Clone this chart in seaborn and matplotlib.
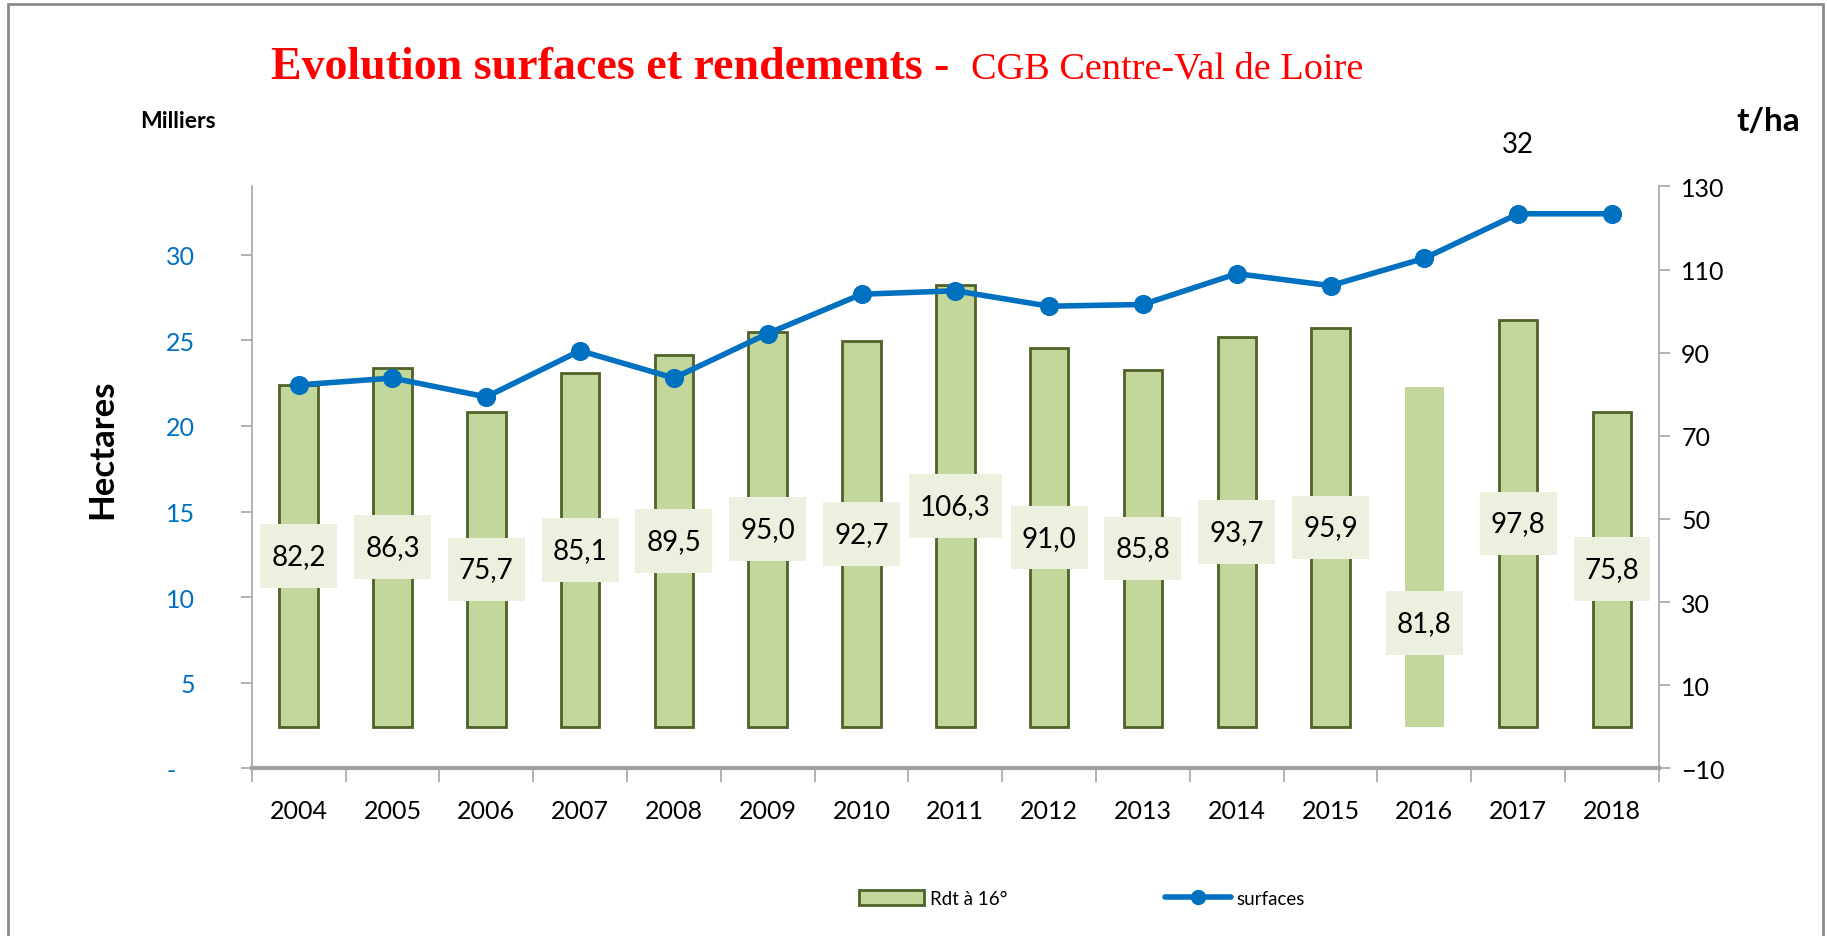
import numpy as np
import pandas as pd
import matplotlib
matplotlib.use('Agg')
import matplotlib.pyplot as plt
import seaborn as sns
from matplotlib.patches import Rectangle, Patch
from matplotlib.lines import Line2D

# Data
years = ['2004', '2005', '2006', '2007', '2008', '2009', '2010', '2011',
         '2012', '2013', '2014', '2015', '2016', '2017', '2018']
rendement = [82.2, 86.3, 75.7, 85.1, 89.5, 95.0, 92.7, 106.3,
             91.0, 85.8, 93.7, 95.9, 81.8, 97.8, 75.8]
surfaces = [22.4, 22.8, 21.7, 24.4, 22.8, 25.4, 27.7, 27.9,
            27.0, 27.1, 28.9, 28.2, 29.8, 32.4, 32.4]
hectare_ticks = [0, 5, 10, 15, 20, 25, 30]
hectare_labels = ['-   ', '5', '10', '15', '20', '25', '30']
tha_ticks = [-10, 10, 30, 50, 70, 90, 110, 130]

df = pd.DataFrame({'annee': years, 'rdt': rendement, 'surfaces': surfaces})

bar_fill = '#C3D69B'
bar_edge = '#4F6228'
line_col = '#0070C0'
axis_grey = '#A6A6A6'

sns.set_theme(style='white')
plt.rcParams['font.family'] = ['Lato', 'DejaVu Sans']
plt.rcParams['text.color'] = 'black'
plt.rcParams['xtick.color'] = 'black'
plt.rcParams['ytick.color'] = 'black'

fig = plt.figure(figsize=(18.27, 9.37), dpi=100)
ax = fig.add_axes([0.1378, 0.179, 0.7702, 0.621])   # left axis: surfaces
ax2 = ax.twinx()                                    # right axis: t/ha

# bars (rendement)
sns.barplot(data=df, x='annee', y='rdt', ax=ax2, color=bar_fill, width=0.41,
            edgecolor=bar_edge, linewidth=2, saturation=1)
ax2.patches[years.index('2016')].set_edgecolor('none')

# line (surfaces)
sns.lineplot(x=np.arange(len(years)), y=surfaces, ax=ax, color=line_col,
             linewidth=4, marker='o', markersize=13, markeredgecolor=line_col)

ax.set_zorder(ax2.get_zorder() + 1)
ax.patch.set_visible(False)

# data labels on bars (2016 label was moved down by hand in the original)
moved_labels = {'2016': 25}
for i, v in enumerate(rendement):
    ypos = moved_labels.get(years[i], v / 2)
    ax2.text(i, ypos, f"{v:.1f}".replace('.', ','), ha='center', va='center',
             fontsize=20, zorder=5,
             bbox=dict(boxstyle='square,pad=0.4', mutation_aspect=1.7,
                       fc='#EBF1DE', ec='none'))

i17 = years.index('2017')
ax.annotate(f"{surfaces[i17]:.0f}", xy=(i17, surfaces[i17]), xytext=(0, 50),
            textcoords='offset points', ha='center', va='center', fontsize=20,
            annotation_clip=False)

# axes
ax.set_xlim(-0.5, len(years) - 0.5)
ax.set_xticks(np.arange(len(years)))
ax.set_xticklabels(years)
ax.set_xticks(np.arange(-0.5, len(years), 1), minor=True)
ax.tick_params(axis='x', which='major', length=0, pad=22, labelsize=18)
ax.tick_params(axis='x', which='minor', bottom=True, length=10, width=1.2,
               color=axis_grey, direction='out')

ax.set_ylim(0, 34)
ax.set_yticks(hectare_ticks)
ax.set_yticklabels(hectare_labels, color=line_col)
ax.tick_params(axis='y', left=True, length=8, width=1.2, color=axis_grey,
               pad=33, labelsize=18, direction='out')

ax2.set_ylim(-10, 130)
ax2.set_yticks(tha_ticks)
ax2.tick_params(axis='y', right=True, length=8, width=1.2, color=axis_grey,
                pad=8, labelsize=18, direction='out')

for a in (ax, ax2):
    a.set_xlabel('')
    a.set_ylabel('')
ax.spines['top'].set_visible(False)
ax.spines['right'].set_visible(False)
ax.spines['left'].set_color(axis_grey)
ax.spines['left'].set_linewidth(1.2)
ax.spines['bottom'].set_color('#A0A0A0')
ax.spines['bottom'].set_linewidth(3)
for s in ('top', 'left', 'bottom'):
    ax2.spines[s].set_visible(False)
ax2.spines['right'].set_color(axis_grey)
ax2.spines['right'].set_linewidth(1.2)

# titles and unit labels
serif = ['Liberation Serif', 'DejaVu Serif']
fig.text(0.1486, 0.9157, 'Evolution surfaces et rendements -', family=serif,
         fontweight='bold', fontsize=33, color='red', va='baseline')
fig.text(0.5312, 0.9157, 'CGB Centre-Val de Loire', family=serif,
         fontsize=27.5, color='red', va='baseline')
fig.text(0.0973, 0.8698, 'Milliers', fontsize=16.5, fontweight='bold',
         ha='center', va='center')
fig.text(0.9677, 0.8698, 't/ha', fontsize=24, fontweight='bold',
         ha='center', va='center')
fig.text(0.0561, 0.5208, 'Hectares', fontsize=25, fontweight='bold',
         rotation=90, ha='center', va='center')

# legend
handles = [Patch(facecolor=bar_fill, edgecolor=bar_edge, linewidth=2, label='Rdt à 16°'),
           Line2D([0], [0], color=line_col, lw=4, marker='o', markersize=10,
                  label='surfaces')]
fig.legend(handles=handles, loc='center', bbox_to_anchor=(0.592, 0.04), ncol=2,
           frameon=False, fontsize=13.5, handlelength=3.5, handleheight=0.9,
           columnspacing=8.4, handletextpad=0.3)

# outer frame
fig.patches.append(Rectangle((0.0044, -0.05), 0.9934, 1.0447, transform=fig.transFigure,
                             fill=False, ec='#8C8C8C', lw=2))

fig.savefig('out.png', dpi=100)
